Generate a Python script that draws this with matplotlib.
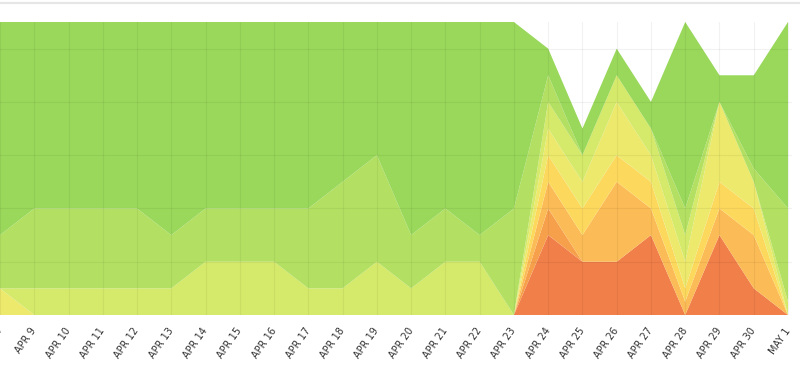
import matplotlib
matplotlib.use("Agg")
import matplotlib.pyplot as plt
from matplotlib.lines import Line2D

# day labels (APR 8 is cut off at the left edge)
days = ["APR 8", "APR 9", "APR 10", "APR 11", "APR 12", "APR 13", "APR 14",
        "APR 15", "APR 16", "APR 17", "APR 18", "APR 19", "APR 20", "APR 21",
        "APR 22", "APR 23", "APR 24", "APR 25", "APR 26", "APR 27", "APR 28",
        "APR 29", "APR 30", "MAY 1"]

# stacked series, bottom to top
red = [0] * 16 + [3, 2, 2, 3, 0, 3, 1, 0]
orange = [0] * 16 + [1, 0, 0, 0, 0, 0, 0, 0]
light_orange = [0] * 16 + [1, 1, 3, 1, 0.5, 1, 2, 0]
yellow = [0] * 16 + [1, 1, 1, 1, 0.5, 1, 1, 0]
pale_yellow = [1] + [0] * 15 + [1, 1, 2, 1, 1, 3, 1, 0]
yellow_green = [0, 1, 1, 1, 1, 1, 2, 2, 2, 1, 1, 2, 1, 2, 2, 0,
                1, 1, 1, 1, 1, 0, 0, 0.5]
light_green = [2, 3, 3, 3, 3, 2, 2, 2, 2, 3, 4, 4, 2, 2, 1, 4,
               1, 0, 0, 0, 1, 0, 0.5, 3.5]
green = [8, 7, 7, 7, 7, 8, 7, 7, 7, 7, 6, 5, 8, 7, 8, 7,
         1, 1, 1, 1, 7, 1, 3.5, 7]

colors = ["#f07f4a", "#f6a04c", "#fbbb56", "#fcd95d",
          "#ede96d", "#d5e96b", "#b3e062", "#99d85b"]

fig = plt.figure(figsize=(8, 3.67), dpi=100)

# thin separator line at the very top
fig.add_artist(Line2D([0, 1], [0.991, 0.991], color="#e6e6e6", lw=1.6))

ax = fig.add_axes([0, 52 / 367, 792 / 800, 293 / 367])
x = list(range(len(days)))
ax.stackplot(x, red, orange, light_orange, yellow, pale_yellow,
             yellow_green, light_green, green, colors=colors, lw=0)

ax.set_xlim(0, 23 + 4 / 34.26)
ax.set_ylim(0, 11)
ax.set_yticks([2, 4, 6, 8, 10])
ax.set_xticks(x)
ax.set_xticklabels(days, rotation=55, ha="right", va="center",
                   rotation_mode="anchor", fontsize=7, color="#333333")
ax.tick_params(axis="x", length=0, pad=10)
ax.tick_params(axis="y", length=0, labelleft=False)
ax.grid(True, color="black", alpha=0.05, lw=0.8, zorder=5)
ax.set_axisbelow(False)
for s in ax.spines.values():
    s.set_visible(False)

fig.savefig("out.png", dpi=100)
